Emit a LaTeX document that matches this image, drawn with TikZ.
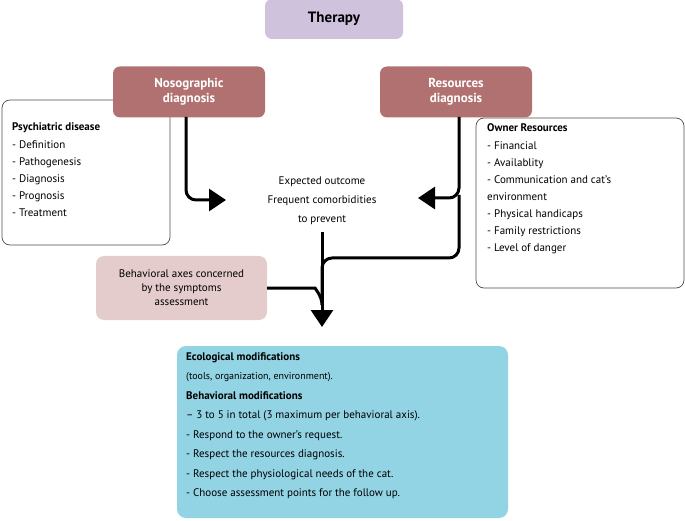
\documentclass[tikz,border=0pt]{standalone}
\usepackage{fontspec}
\setmainfont{PT Sans}
\usetikzlibrary{arrows.meta}
\definecolor{lav}{HTML}{CFC2DD}
\definecolor{rose}{HTML}{B27171}
\definecolor{pinkb}{HTML}{E4CCCC}
\definecolor{cyanb}{HTML}{92D3E4}
\begin{document}
\begin{tikzpicture}[x=1pt,y=-1pt,
  hdr/.style={draw=none,fill=rose,rounded corners=7pt,text=white,font=\bfseries\fontsize{13}{15}\selectfont,align=center},
  outl/.style={draw=black!70,line width=0.7pt,rounded corners=8pt},
  arr/.style={line width=3pt,rounded corners=10pt,-{Triangle[length=17pt,width=22pt]}},
  ln/.style={line width=3pt,rounded corners=10pt},
  txt/.style={font=\fontsize{11}{17}\selectfont,align=left,anchor=north west,inner sep=0}]
\useasboundingbox (0,0) rectangle (685,521);
% outline boxes
\draw[outl] (2,100) rectangle (170,245);
\draw[outl] (476,118) rectangle (684,288);
\node[txt] (lt) at (12,122) {\textbf{Psychiatric disease}\\[1pt]- Definition\\- Pathogenesis\\- Diagnosis\\- Prognosis\\- Treatment};
\node[txt] (rt) at (487,123) {\textbf{Owner Resources}\\[1pt]- Financial\\- Availablity\\- Communication and cat's\\environment\\- Physical handicaps\\- Family restrictions\\- Level of danger};
% headers
\node[fill=lav,rounded corners=7pt,minimum width=138pt,minimum height=40pt,font=\bfseries\fontsize{15}{17}\selectfont] (th) at (334,19) {Therapy};
\node[hdr,minimum width=152pt,minimum height=51pt] (no) at (189,92) {Nosographic\\diagnosis};
\node[hdr,minimum width=152pt,minimum height=51pt] (re) at (456,92) {Resources\\diagnosis};
% center
\node[font=\fontsize{11}{19}\selectfont,align=center] (ex) at (322,201) {Expected outcome\\Frequent comorbidities\\to prevent};
\node[fill=pinkb,rounded corners=8pt,minimum width=171pt,minimum height=64pt,align=center,font=\fontsize{11}{14}\selectfont] (be) at (181.5,288) {Behavioral axes concerned\\by the symptoms\\assessment};
\node[fill=cyanb,rounded corners=9pt,minimum width=331pt,minimum height=172pt] (bt) at (342.5,432) {};
\node[txt,font=\fontsize{11}{19.5}\selectfont] at (186,352) {\textbf{Ecological modifications}\\{\fontsize{10}{12}\selectfont(tools, organization, environment).}\\\textbf{Behavioral modifications}\\-- 3 to 5 in total (3 maximum per behavioral axis).\\- Respond to the owner's request.\\- Respect the resources diagnosis.\\- Respect the physiological needs of the cat.\\- Choose assessment points for the follow up.};
% connectors
\coordinate (tipc) at (322,327);
\draw[arr] (186,117) |- (226,200);
\draw[arr] (459,117) -- (459,198) -- (418,198);
\draw[ln] (459,195) |- (322,258) -- (322,300);
\draw[arr] (322,232) -- (tipc);
\draw[ln] (be.east |- 0,288) -- (305,288) to[out=0,in=90] (322,305);
\end{tikzpicture}
\end{document}
